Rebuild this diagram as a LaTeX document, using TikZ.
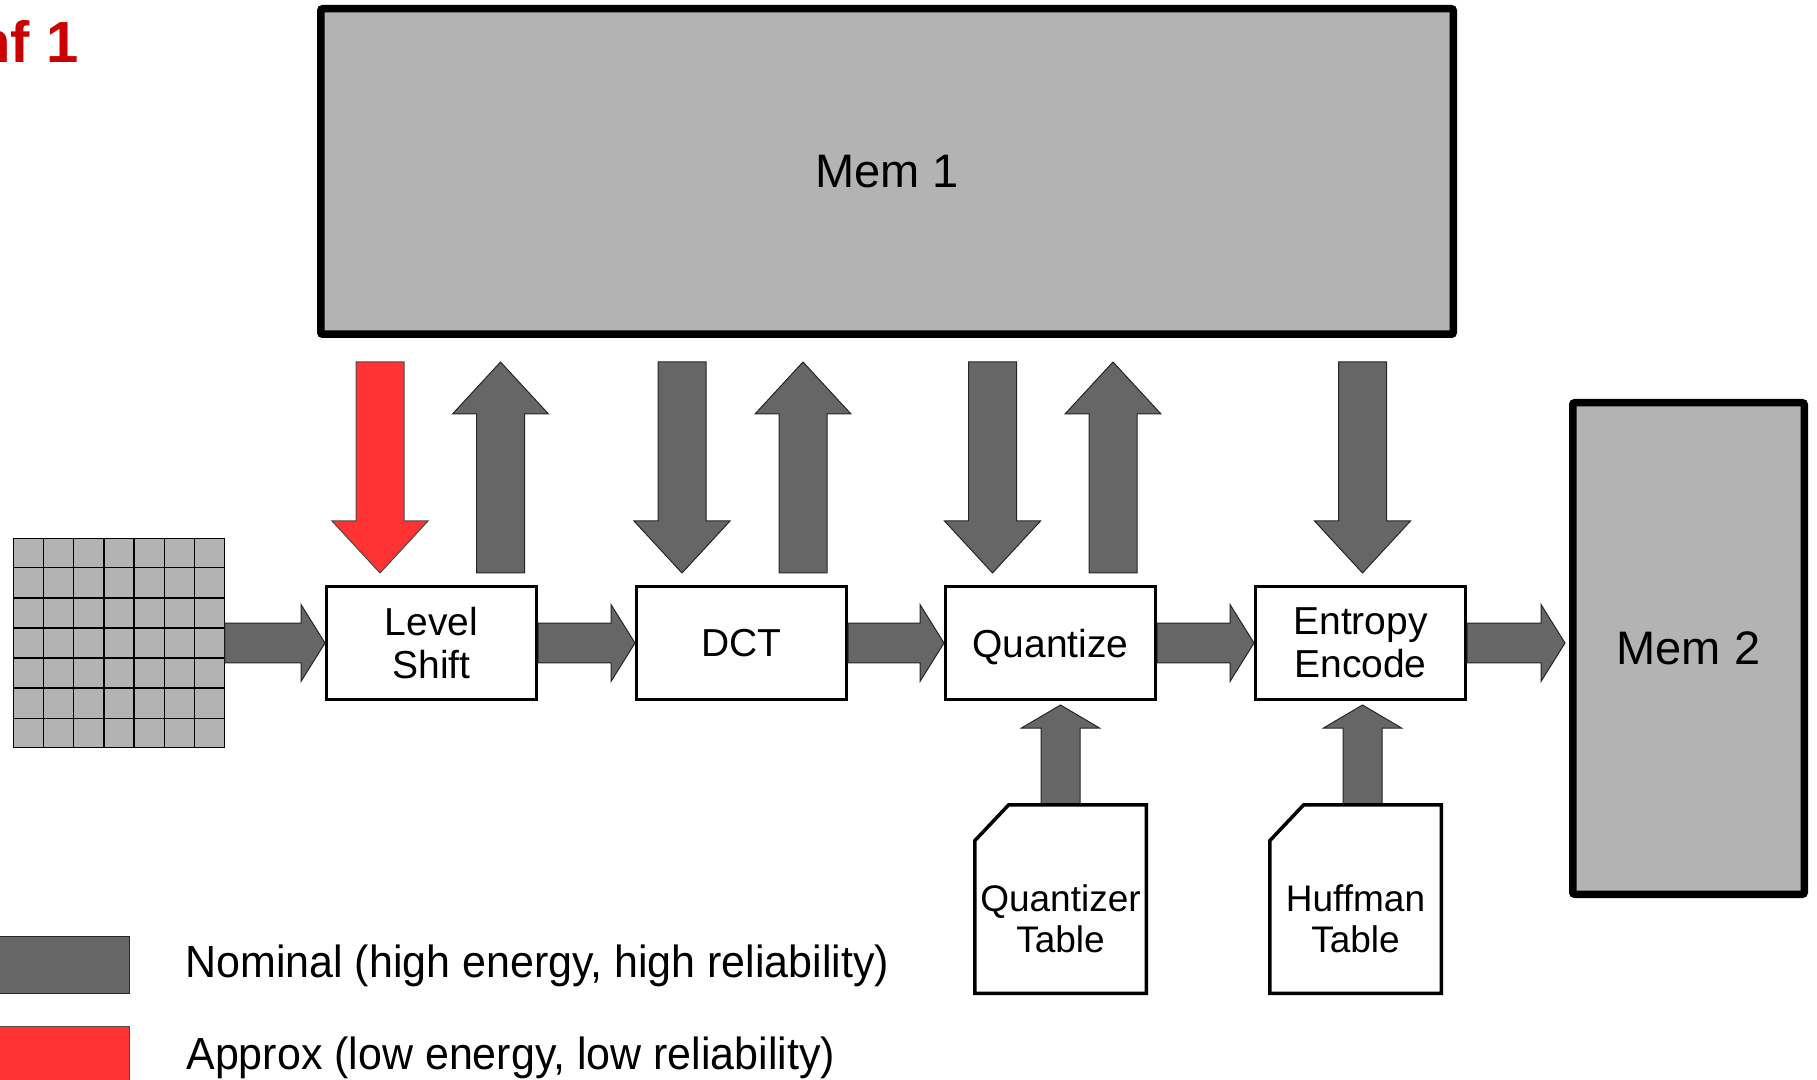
\documentclass[tikz,border=0pt]{standalone}
\usepackage{fontspec}
\setmainfont{Liberation Sans}
\newfontfamily\legendfont{Liberation Sans}[FakeStretch=0.955]
\usetikzlibrary{calc}

\definecolor{memgray}{HTML}{B3B3B3}
\definecolor{pipegray}{HTML}{666666}
\definecolor{approxred}{HTML}{FF3333}
\definecolor{titlered}{HTML}{CC0000}

% fat block arrow from #1 to #2: body half width #3, head half width #4, head length #5, style #6
\newcommand\blockarrow[6]{%
  \coordinate (ba-base) at ($(#2)!#5!(#1)$);
  \path[#6] ($(#1)!#3!90:(#2)$) -- ($(ba-base)!#3!90:(#2)$) -- ($(ba-base)!#4!90:(#2)$)
    -- (#2) -- ($(ba-base)!#4!-90:(#2)$) -- ($(ba-base)!#3!-90:(#2)$) -- ($(#1)!#3!-90:(#2)$) -- cycle;}

\begin{document}
\begin{tikzpicture}[x=0.5pt,y=-0.5pt,
  mem/.style={draw=black, fill=memgray, line width=3.75pt, rounded corners=1pt, inner sep=0pt,
    font=\fontsize{23.5pt}{26pt}\selectfont},
  stage/.style={draw=black, fill=white, line width=1.6pt, minimum width=104.9pt, minimum height=56.4pt,
    align=center, inner sep=0pt, font=\fontsize{19.5pt}{21.5pt}\selectfont},
  docarea/.style={minimum width=85.75pt, minimum height=94.25pt, inner sep=0pt, outer sep=0pt},
  docline/.style={draw=black, fill=white, line width=1.75pt},
  doctext/.style={align=center, inner sep=0pt, font=\fontsize{18.5pt}{20.5pt}\selectfont},
  nominal/.style={fill=pipegray, draw=black!85, line width=0.5pt},
  approx/.style={fill=approxred, draw=black!70, line width=0.5pt},
  legendtext/.style={anchor=base west, inner sep=0pt, font=\legendfont\fontsize{22.5pt}{25pt}\selectfont},
]
\useasboundingbox (0,0) rectangle (1817,1080);

% title fragment
\node[anchor=base west, inner sep=0pt, text=titlered, font=\bfseries\fontsize{29pt}{32pt}\selectfont]
  (title) at (-25,63) {nf 1};

% memories
\node[mem, minimum width=566.25pt, minimum height=162.75pt] (mem1) at (887,171.5) {Mem 1};
\node[mem, minimum width=115.75pt, minimum height=245.75pt] (mem2) at (1688.5,648.5) {Mem 2};

% 8x8-style input block
\node[draw=black, fill=memgray, line width=0.7pt, minimum width=105.25pt, minimum height=104.75pt,
  inner sep=0pt] (grid) at (119,643) {};
\foreach \i in {1,...,6} {
  \draw[line width=0.7pt] ($(grid.north west)!\i/7!(grid.north east)$) -- ($(grid.south west)!\i/7!(grid.south east)$);
  \draw[line width=0.7pt] ($(grid.north west)!\i/7!(grid.south west)$) -- ($(grid.north east)!\i/7!(grid.south east)$);
}

% pipeline stages
\node[stage] (ls) at (431.5,643) {Level\\Shift};
\node[stage] (dct) at (741.5,643) {DCT};
\node[stage, text depth=0pt] (q) at (1050.5,643) {Quantize};
\node[stage] (ee) at (1360.5,643) {Entropy\\Encode};

% lookup tables
\node[docarea] (qtab) at (1060.5,899) {};
\node[docarea] (htab) at (1355.5,899) {};

% table -> stage arrows
\path (qtab.north |- q.south) ++(0,4) coordinate (qtab-tip);
\path (htab.north |- ee.south) ++(7,4) coordinate (htab-tip);
\path (htab-tip |- htab.north) coordinate (htab-tail);
\blockarrow{qtab.north}{qtab-tip}{9.75pt}{19.5pt}{11.5pt}{nominal}
\blockarrow{htab-tail}{htab-tip}{9.75pt}{19.5pt}{11.5pt}{nominal}

\draw[docline] ($(qtab.north west)+(34,0)$) -- (qtab.north east) -- (qtab.south east)
  -- (qtab.south west) -- ($(qtab.north west)+(0,36)$) -- cycle;
\draw[docline] ($(htab.north west)+(34,0)$) -- (htab.north east) -- (htab.south east)
  -- (htab.south west) -- ($(htab.north west)+(0,36)$) -- cycle;
\node[doctext] (qtabtxt) at ($(qtab.center)+(0,20)$) {Quantizer\\Table};
\node[doctext] (htabtxt) at ($(htab.center)+(0,20)$) {Huffman\\Table};

% horizontal data flow
\path (mem2.west |- ee.east) ++(-4,0) coordinate (mem2-in);
\blockarrow{grid.east}{ls.west}{9.9pt}{19.25pt}{12pt}{nominal}
\blockarrow{ls.east}{dct.west}{9.9pt}{19.25pt}{12pt}{nominal}
\blockarrow{dct.east}{q.west}{9.9pt}{19.25pt}{12pt}{nominal}
\blockarrow{q.east}{ee.west}{9.9pt}{19.25pt}{12pt}{nominal}
\blockarrow{ee.east}{mem2-in}{9.9pt}{19.25pt}{12pt}{nominal}

% memory reads (down) and writes (up)
\path (ls.north) ++(-51.5,-12) coordinate (lsdn-tip);
\path (lsdn-tip |- mem1.south) ++(0,24) coordinate (lsdn-tail);
\path (ls.north) ++(69,-12) coordinate (lsup-tail);
\path (lsup-tail |- mem1.south) ++(0,24) coordinate (lsup-tip);
\path (dct.north) ++(-59.5,-12) coordinate (dctdn-tip);
\path (dctdn-tip |- mem1.south) ++(0,24) coordinate (dctdn-tail);
\path (dct.north) ++(61.5,-12) coordinate (dctup-tail);
\path (dctup-tail |- mem1.south) ++(0,24) coordinate (dctup-tip);
\path (q.north) ++(-58,-12) coordinate (qdn-tip);
\path (qdn-tip |- mem1.south) ++(0,24) coordinate (qdn-tail);
\path (q.north) ++(62.5,-12) coordinate (qup-tail);
\path (qup-tail |- mem1.south) ++(0,24) coordinate (qup-tip);
\path (ee.north) ++(2,-12) coordinate (eedn-tip);
\path (eedn-tip |- mem1.south) ++(0,24) coordinate (eedn-tail);

\blockarrow{lsdn-tail}{lsdn-tip}{12pt}{24pt}{26pt}{approx}
\blockarrow{lsup-tail}{lsup-tip}{12pt}{24pt}{26pt}{nominal}
\blockarrow{dctdn-tail}{dctdn-tip}{12pt}{24pt}{26pt}{nominal}
\blockarrow{dctup-tail}{dctup-tip}{12pt}{24pt}{26pt}{nominal}
\blockarrow{qdn-tail}{qdn-tip}{12pt}{24pt}{26pt}{nominal}
\blockarrow{qup-tail}{qup-tip}{12pt}{24pt}{26pt}{nominal}
\blockarrow{eedn-tail}{eedn-tip}{12pt}{24pt}{26pt}{nominal}

% legend
\node[nominal, minimum width=66pt, minimum height=28.5pt, inner sep=0pt] (legnom) at (63,964.5) {};
\node[approx, minimum width=66pt, minimum height=30pt, inner sep=0pt] (legapx) at (63,1056) {};
\node[legendtext] (legnomtxt) at (185,977) {Nominal (high energy, high reliability)};
\node[legendtext] (legapxtxt) at (186,1069) {Approx (low energy, low reliability)};
\end{tikzpicture}
\end{document}
